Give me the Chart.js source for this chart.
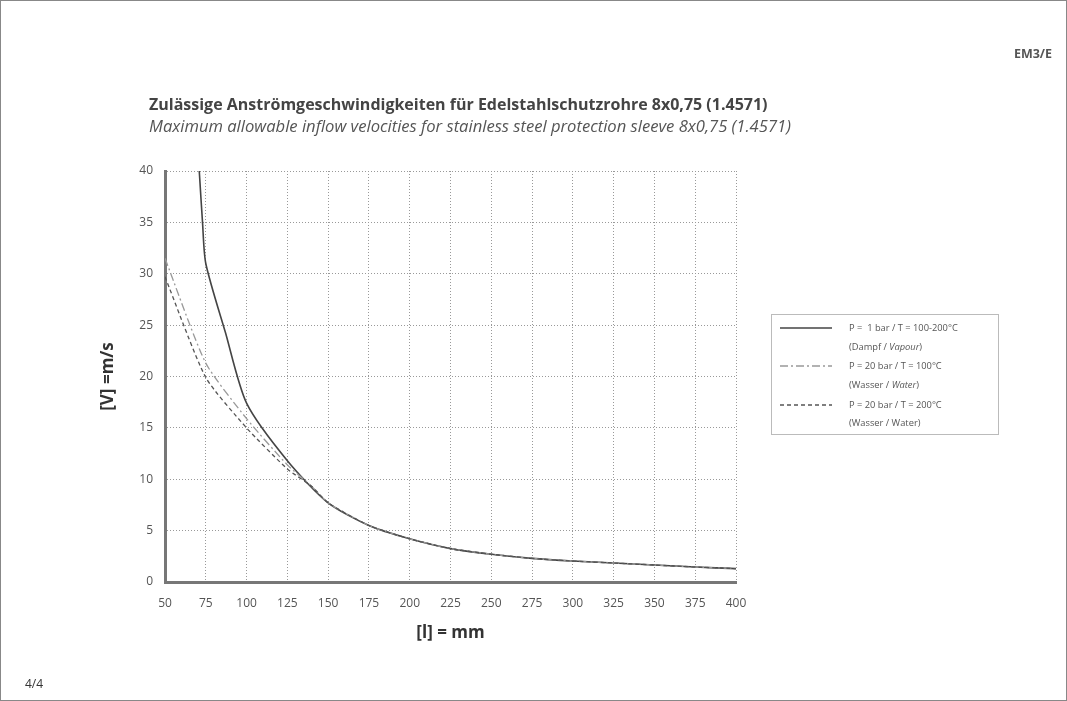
<!DOCTYPE html>
<html>
<head>
<meta charset="utf-8">
<script src="https://cdn.jsdelivr.net/npm/chart.js@4.4.1/dist/chart.umd.min.js"></script>
<style>
  html, body { margin: 0; padding: 0; background: #fff; }
  #page { position: relative; width: 1065px; height: 699px; border: 1px solid #888; font-family: "Open Sans", sans-serif; color: #444; overflow: hidden; }
  #chartBox { position: absolute; left: 0; top: 0; width: 1065px; height: 699px; }
  .txt { position: absolute; white-space: nowrap; }
  #legend { position: absolute; left: 770px; top: 313px; width: 228px; height: 121px; border: 1px solid #bbb; box-sizing: border-box; font-size: 9.3px; color: #555; }
  #legend .row { position: absolute; left: 8px; height: 12px; width: 215px; }
  #legend svg { position: absolute; left: 0; top: 0; }
  #legend span { position: absolute; left: 69px; top: -1px; white-space: pre; }
</style>
</head>
<body>
<div id="page">
  <div id="chartBox"><canvas id="velocityChart"></canvas></div>
  <div class="txt" style="right:14px; top:44px; font-size:12.5px; font-weight:bold; color:#555;">EM3/E</div>
  <div class="txt" style="left:148px; top:92px; font-size:16px; font-weight:bold;">Zulässige Anströmgeschwindigkeiten für Edelstahlschutzrohre 8x0,75 (1.4571)</div>
  <div class="txt" style="left:148px; top:113px; font-size:16.6px; font-style:italic; color:#555;">Maximum allowable inflow velocities for stainless steel protection sleeve 8x0,75 (1.4571)</div>
  <div class="txt" style="left:24px; top:674px; font-size:12px; color:#333;">4/4</div>
  <div id="legend">
    <div class="row" style="top:7px;"><svg width="54" height="12"><line x1="0" y1="6" x2="52" y2="6" stroke="#444" stroke-width="1.5"/></svg><span>P =  1 bar / T = 100-200°C</span></div>
    <div class="row" style="top:26px;"><span>(Dampf / <i>Vapour</i>)</span></div>
    <div class="row" style="top:45px;"><svg width="54" height="12"><line x1="0" y1="6" x2="52" y2="6" stroke="#999" stroke-width="1.3" stroke-dasharray="8,3,2,3"/></svg><span>P = 20 bar / T = 100°C</span></div>
    <div class="row" style="top:64px;"><span>(Wasser / <i>Water</i>)</span></div>
    <div class="row" style="top:84px;"><svg width="54" height="12"><line x1="0" y1="6" x2="52" y2="6" stroke="#555" stroke-width="1.3" stroke-dasharray="4,3"/></svg><span>P = 20 bar / T = 200°C</span></div>
    <div class="row" style="top:102px;"><span>(Wasser / Water)</span></div>
  </div>
</div>
<script>
// sleeve length [mm] and allowed velocity [m/s]
const lengthsSteam = [71, 73, 75, 87, 100, 125, 150, 175, 200, 225, 250, 275, 300, 325, 350, 375, 400];
const vSteam       = [40, 35, 31, 24.3, 17.4, 11.8, 7.7, 5.5, 4.2, 3.25, 2.7, 2.3, 2.04, 1.85, 1.65, 1.46, 1.3];

const lengthsWater = [50, 75, 100, 125, 140, 150, 175, 200, 225, 250, 275, 300, 325, 350, 375, 400];
const vWater100    = [31.5, 21.3, 15.9, 11.4, 9.3, 7.7, 5.5, 4.2, 3.25, 2.7, 2.3, 2.04, 1.85, 1.65, 1.46, 1.3];
const vWater200    = [29.7, 19.9, 15.0, 11.0, 9.3, 7.7, 5.5, 4.2, 3.25, 2.7, 2.3, 2.04, 1.85, 1.65, 1.46, 1.3];

const xTicks = [50, 75, 100, 125, 150, 175, 200, 225, 250, 275, 300, 325, 350, 375, 400];
const yTicks = [0, 5, 10, 15, 20, 25, 30, 35, 40];

function toPoints(xs, ys) {
    return xs.map((x, i) => ({ x: x, y: ys[i] }));
}

let ctx = document.getElementById("velocityChart").getContext("2d");

new Chart(ctx, {
    type: "line",
    data: {
        datasets: [
            {
                label: "P = 20 bar / T = 200°C",
                data: toPoints(lengthsWater, vWater200),
                borderColor: "#555",
                borderWidth: 1.3,
                borderDash: [4, 3],
                pointRadius: 0,
                tension: 0.2
            },
            {
                label: "P = 20 bar / T = 100°C",
                data: toPoints(lengthsWater, vWater100),
                borderColor: "#999",
                borderWidth: 1.3,
                borderDash: [8, 3, 2, 3],
                pointRadius: 0,
                tension: 0.2
            },
            {
                label: "P = 1 bar / T = 100-200°C",
                data: toPoints(lengthsSteam, vSteam),
                borderColor: "#444",
                borderWidth: 1.6,
                pointRadius: 0,
                tension: 0.25
            }
        ]
    },
    options: {
        responsive: true,
        maintainAspectRatio: false,
        animation: false,
        layout: { padding: { left: 93, right: 330, top: 170, bottom: 53 } },
        plugins: {
            legend: { display: false },
            tooltip: { enabled: false }
        },
        scales: {
            x: {
                type: "linear",
                min: 50,
                max: 400,
                afterBuildTicks: axis => { axis.ticks = xTicks.map(v => ({ value: v })); },
                afterFit: axis => { axis.height = 65; },
                ticks: { color: "#555", font: { family: "Open Sans", size: 12 }, padding: 14 },
                grid: { color: "#999", drawTicks: false, lineWidth: 1 },
                border: { color: "#777", width: 3, dash: [1, 2] },
                title: { display: true, text: "[l] = mm", color: "#333", font: { family: "Open Sans", size: 17, weight: "bold" }, padding: { top: 4 } }
            },
            y: {
                type: "linear",
                min: 0,
                max: 40,
                afterBuildTicks: axis => { axis.ticks = yTicks.map(v => ({ value: v })); },
                afterFit: axis => { axis.width = 71; },
                ticks: { color: "#555", font: { family: "Open Sans", size: 12 }, padding: 12 },
                grid: { color: "#999", drawTicks: false, lineWidth: 1 },
                border: { color: "#777", width: 3, dash: [1, 2] },
                title: { display: true, text: "[V] =m/s", color: "#333", font: { family: "Open Sans", size: 17, weight: "bold" }, padding: { bottom: 4 } }
            }
        }
    }
});
</script>
</body>
</html>
